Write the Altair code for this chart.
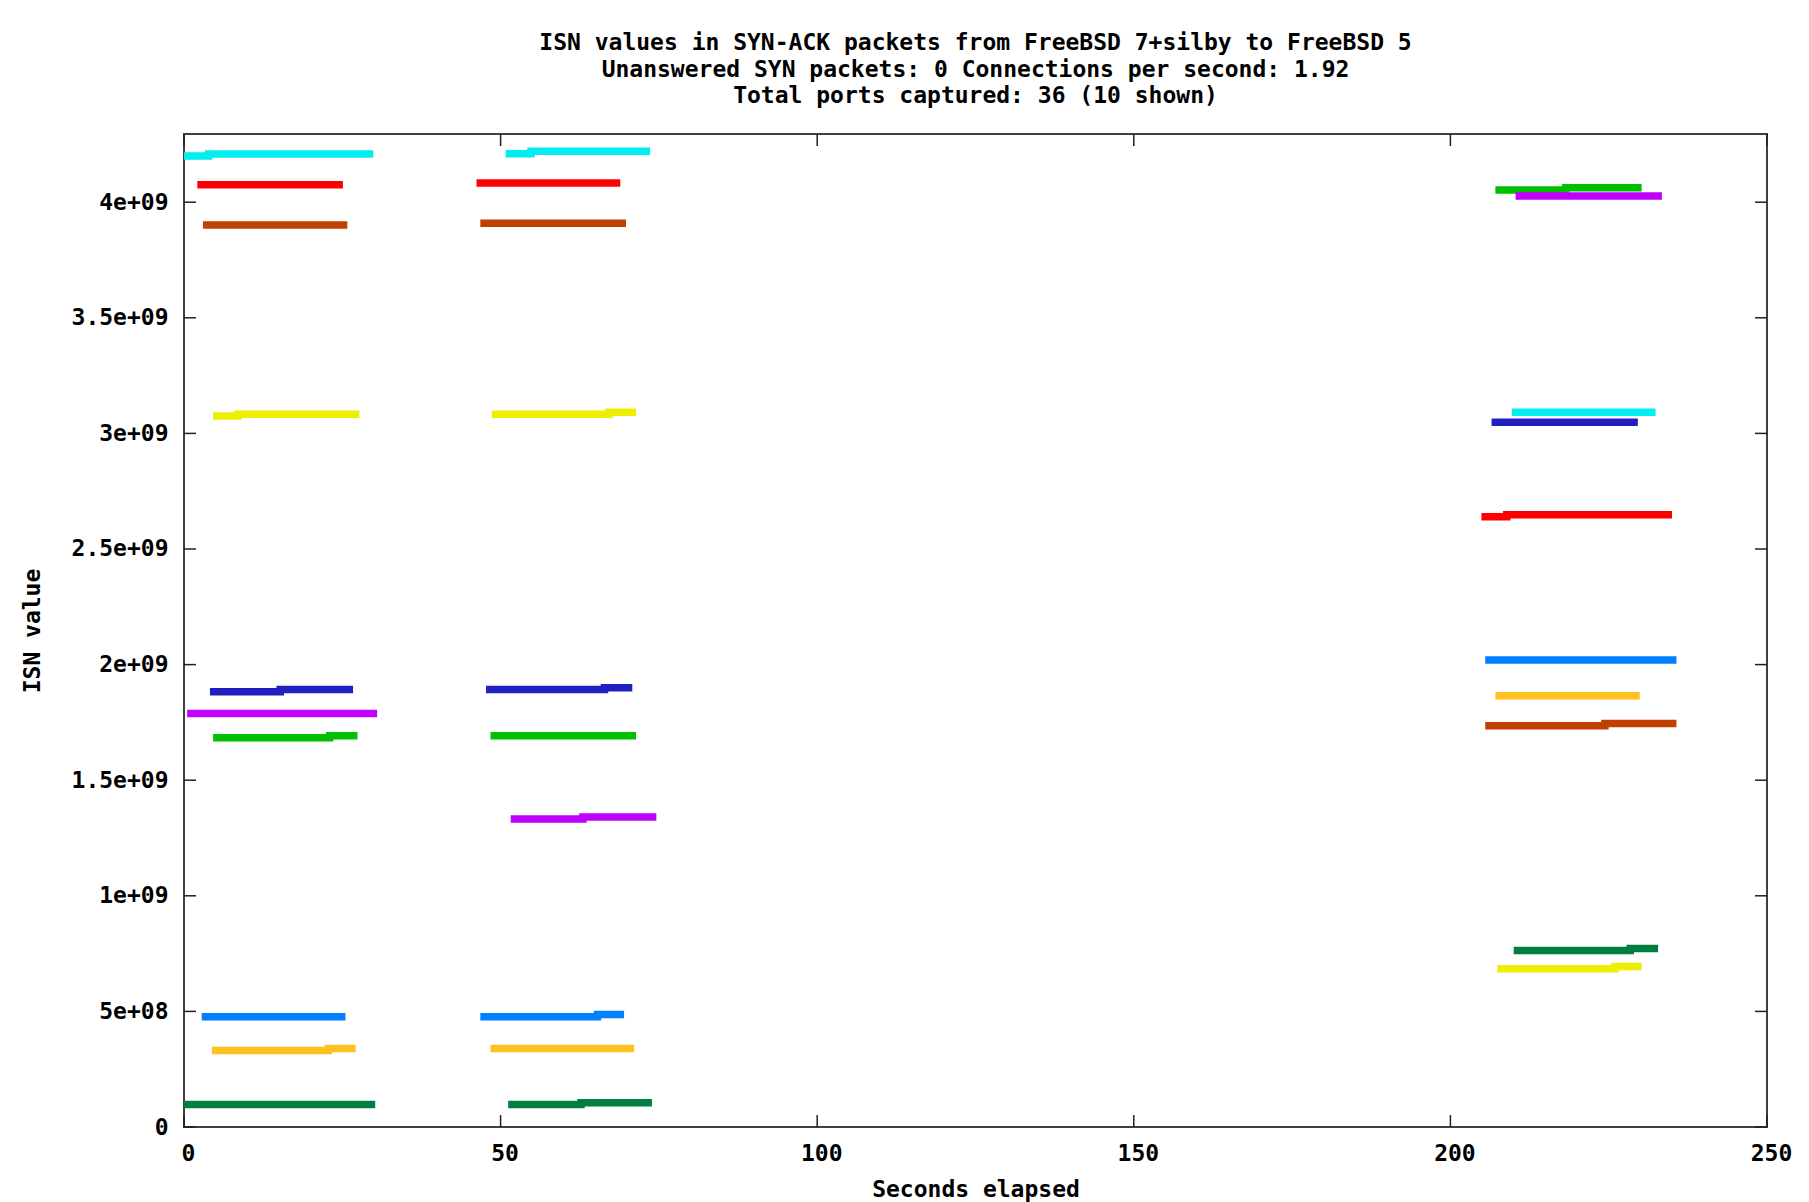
import altair as alt
import pandas as pd

# ---- data ----
series_names = ["port A", "port B", "port C", "port D", "port E",
                "port F", "port G", "port H", "port I", "port J"]
series_colors = ["#00eeee", "#ff0000", "#c04000", "#eeee00", "#2020c0",
                 "#c000ff", "#00c000", "#0080ff", "#ffc020", "#008040"]

# each segment: series, start time, step time (None = no step), end time,
# ISN before step, ISN after step (units of 1e9)
seg_series = ["port A", "port B", "port C", "port D", "port E", "port F", "port G", "port H", "port I", "port J",
              "port A", "port B", "port C", "port D", "port E", "port F", "port G", "port H", "port I", "port J",
              "port G", "port F", "port A", "port E", "port B", "port H", "port I", "port C", "port J", "port D"]
seg_t_start = [0.0, 2.1, 3.0, 4.6, 4.1, 0.5, 4.6, 2.8, 4.4, 0.0,
               50.8, 46.2, 46.8, 48.6, 47.7, 51.6, 48.4, 46.8, 48.4, 51.2,
               207.1, 210.3, 209.7, 206.5, 204.9, 205.5, 207.1, 205.5, 210.0, 207.4]
seg_t_step = [3.9, None, None, 8.5, 15.2, None, 23.0, None, 22.8, None,
              54.8, None, None, 67.1, 66.4, 63.0, None, 65.3, None, 62.7,
              218.2, None, None, None, 208.9, None, None, 224.4, 228.4, 226.0]
seg_t_end = [29.9, 25.1, 25.8, 27.7, 26.7, 30.5, 27.4, 25.5, 27.1, 30.2,
             73.6, 68.9, 69.8, 71.4, 70.8, 74.6, 71.4, 69.5, 71.1, 73.9,
             230.2, 233.4, 232.4, 229.6, 235.0, 235.7, 229.9, 235.7, 232.8, 230.2]
seg_v_start = [4.200, 4.075, 3.901, 3.075, 1.883, 1.788, 1.684, 0.477, 0.331, 0.097,
               4.210, 4.083, 3.909, 3.083, 1.892, 1.332, 1.692, 0.477, 0.340, 0.097,
               4.053, 4.027, 3.091, 3.048, 2.639, 2.020, 1.865, 1.736, 0.763, 0.685]
seg_v_end = [4.208, 4.075, 3.901, 3.083, 1.892, 1.788, 1.692, 0.477, 0.340, 0.097,
             4.220, 4.083, 3.909, 3.092, 1.900, 1.341, 1.692, 0.487, 0.340, 0.105,
             4.062, 4.027, 3.091, 3.048, 2.648, 2.020, 1.865, 1.745, 0.772, 0.694]

x_tick_values = [0, 50, 100, 150, 200, 250]
y_tick_values = [0, 500000000, 1000000000, 1500000000, 2000000000,
                 2500000000, 3000000000, 3500000000, 4000000000]
y_tick_labels = ["0", "5e+08", "1e+09", "1.5e+09", "2e+09",
                 "2.5e+09", "3e+09", "3.5e+09", "4e+09"]

title_lines = ["ISN values in SYN-ACK packets from FreeBSD 7+silby to FreeBSD 5",
               "Unanswered SYN packets: 0 Connections per second: 1.92",
               "Total ports captured: 36 (10 shown)"]

# ---- build table ----
rows = []
for k in range(len(seg_series)):
    pts = [(seg_t_start[k], seg_v_start[k])]
    if seg_t_step[k] is not None:
        pts.append((seg_t_step[k], seg_v_end[k]))
    pts.append((seg_t_end[k], seg_v_end[k]))
    for i, (t, v) in enumerate(pts):
        rows.append({"port": seg_series[k], "seg": k, "i": i, "t": t, "isn": v * 1e9})
df = pd.DataFrame(rows)

W, H = 1583, 993
FONT = "DejaVu Sans Mono"
FS = 23
TICK = 12
INK = "#202020"

x_scale = alt.Scale(domain=[0, 250], nice=False, zero=False)
y_scale = alt.Scale(domain=[0, 4294967296], nice=False)

label_expr = " : ".join(
    f"datum.value == {v} ? '{l}'" for v, l in zip(y_tick_values, y_tick_labels)
) + " : ''"

x_axis = alt.Axis(values=x_tick_values, ticks=False, domain=False, grid=False,
                  labelFont=FONT, labelFontSize=FS, labelFontWeight="bold", labelColor="black",
                  labelPadding=15, labelOffset=4, labelFlush=False, labelOverlap=False,
                  format="d",
                  title="Seconds elapsed", titleFont=FONT, titleFontSize=FS,
                  titleFontWeight="bold", titleColor="black", titleY=62,
                  titleBaseline="middle")
y_axis = alt.Axis(values=y_tick_values, ticks=False, domain=False, grid=False,
                  labelExpr=label_expr,
                  labelFont=FONT, labelFontSize=FS, labelFontWeight="bold", labelColor="black",
                  labelPadding=16, labelFlush=False, labelOverlap=False,
                  title="ISN value", titleFont=FONT, titleFontSize=FS,
                  titleFontWeight="bold", titleColor="black",
                  titleX=-152, titleY=H / 2, titleAngle=270,
                  titleAlign="center", titleBaseline="middle")

lines = alt.Chart(df).mark_line(
    interpolate="step-after", strokeWidth=7.5, strokeCap="butt", clip=True
).encode(
    x=alt.X("t:Q", scale=x_scale, axis=x_axis),
    y=alt.Y("isn:Q", scale=y_scale, axis=y_axis),
    color=alt.Color("port:N", scale=alt.Scale(domain=series_names, range=series_colors), legend=None),
    detail="seg:N",
    order="i:Q",
)

xt = pd.DataFrame({"t": x_tick_values})
yt = pd.DataFrame({"isn": y_tick_values})

xt_bottom = alt.Chart(xt).mark_rule(color=INK, strokeWidth=1.5).encode(
    x=alt.X("t:Q", scale=x_scale, title="Seconds elapsed"),
    y=alt.value(H), y2=alt.value(H - TICK))
xt_top = alt.Chart(xt).mark_rule(color=INK, strokeWidth=1.5).encode(
    x=alt.X("t:Q", scale=x_scale, title="Seconds elapsed"),
    y=alt.value(0), y2=alt.value(TICK))
yt_left = alt.Chart(yt).mark_rule(color=INK, strokeWidth=1.5).encode(
    y=alt.Y("isn:Q", scale=y_scale, title="ISN value"),
    x=alt.value(0), x2=alt.value(TICK))
yt_right = alt.Chart(yt).mark_rule(color=INK, strokeWidth=1.5).encode(
    y=alt.Y("isn:Q", scale=y_scale, title="ISN value"),
    x=alt.value(W - TICK), x2=alt.value(W))

chart = alt.layer(lines, xt_bottom, xt_top, yt_left, yt_right).properties(
    width=W, height=H,
    background="white",
    padding={"left": 176, "top": 126, "right": 31, "bottom": 75},
    autosize=alt.AutoSizeParams(type="none"),
    title=alt.TitleParams(text=title_lines, font=FONT, fontSize=FS, fontWeight="bold",
                          color="black", lineHeight=26.5, anchor="middle", frame="group",
                          offset=25),
).configure_view(
    stroke="#404040", strokeWidth=2
)

chart.save("out.html", embed_options={"renderer": "svg", "actions": False})
